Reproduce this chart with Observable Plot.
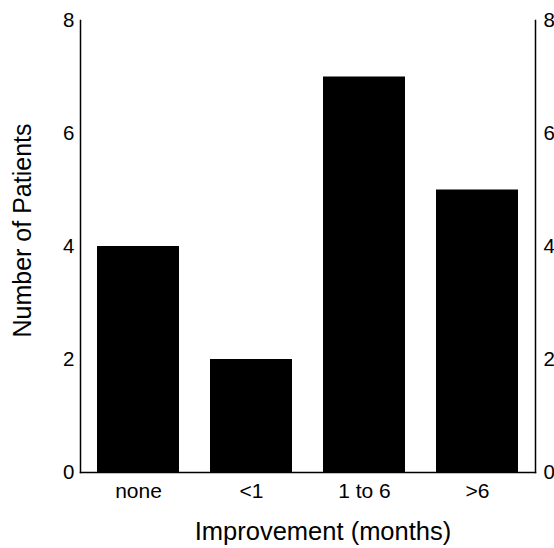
<!DOCTYPE html>
<html>
<head>
<meta charset="utf-8">
<script src="https://cdn.jsdelivr.net/npm/d3@7"></script>
<script src="https://cdn.jsdelivr.net/npm/@observablehq/plot@0.6"></script>
<style>
  html, body { margin: 0; padding: 0; background: #fff; }
  svg { display: block; }
</style>
</head>
<body>
<div id="chart"></div>
<script>
const categories = ["none", "<1", "1 to 6", ">6"];
const patients = [4, 2, 7, 5];
const yTicks = [0, 2, 4, 6, 8];

const data = categories.map((c, i) => ({category: c, value: patients[i]}));

const chart = Plot.plot({
  width: 554,
  height: 548,
  marginLeft: 80,
  marginRight: 19,
  marginTop: 20,
  marginBottom: 76,
  style: {fontFamily: "'Liberation Sans', Arial, sans-serif", background: "#fff", color: "#000"},
  x: {domain: categories, paddingInner: 0.27, paddingOuter: 0.135},
  y: {domain: [0, 8]},
  marks: [
    Plot.barY(data, {x: "category", y: "value", fill: "#000"}),
    Plot.frame({anchor: "left", stroke: "#000", strokeWidth: 1.5}),
    Plot.frame({anchor: "right", stroke: "#000", strokeWidth: 1.5}),
    Plot.frame({anchor: "bottom", stroke: "#000", strokeWidth: 1.5}),
    Plot.axisY({anchor: "left", ticks: yTicks, tickSize: 0, tickPadding: 6,
      label: "Number of Patients", labelAnchor: "center", labelArrow: "none", labelOffset: 67}),
    Plot.axisY({anchor: "right", ticks: yTicks, tickSize: 0, tickPadding: 8, label: null}),
    Plot.axisX({anchor: "bottom", tickSize: 0, tickPadding: 11,
      label: "Improvement (months)", labelAnchor: "center", labelArrow: "none", labelOffset: 67})
  ]
});
document.getElementById("chart").appendChild(chart);

function setSize(sel, size) {
  chart.querySelectorAll(sel).forEach(g => {
    g.setAttribute("font-size", size);
    g.querySelectorAll("text").forEach(t => t.setAttribute("font-size", size));
  });
}
setSize("g[aria-label='y-axis tick label']", 20.5);
setSize("g[aria-label='x-axis tick label']", 21);
setSize("g[aria-label='y-axis label']", 25);
setSize("g[aria-label='x-axis label']", 25.5);

chart.querySelectorAll("g[aria-label='x-axis label'] text").forEach(t =>
  t.setAttribute("transform", (t.getAttribute("transform") || "") + " translate(15,0)"));
chart.querySelectorAll("g[aria-label='y-axis label'] text").forEach(t =>
  t.setAttribute("transform", (t.getAttribute("transform") || "") + " translate(16,0)"));
</script>
</body>
</html>
